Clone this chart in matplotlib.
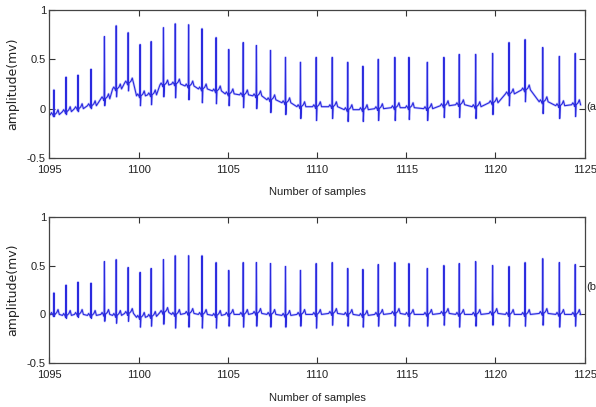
import numpy as np
import matplotlib
matplotlib.use('Agg')
import matplotlib.pyplot as plt

# Tiempos de los latidos (pico R)
beat_times = [1095.25, 1095.93, 1096.60, 1097.33, 1098.08, 1098.74, 1099.41, 1100.08,
              1100.70, 1101.39, 1102.05, 1102.80, 1103.55, 1104.34, 1105.05, 1105.86,
              1106.60, 1107.39, 1108.23, 1109.07, 1109.95, 1110.85, 1111.72, 1112.57,
              1113.43, 1114.36, 1115.15, 1116.18, 1117.11, 1117.97, 1118.89, 1119.84,
              1120.76, 1121.66, 1122.65, 1123.58, 1124.47]

# (a) señal con deriva de linea base
top_peaks = [0.19, 0.32, 0.34, 0.40, 0.73, 0.84, 0.77, 0.65, 0.68, 0.82, 0.86, 0.85,
             0.81, 0.72, 0.60, 0.67, 0.64, 0.59, 0.52, 0.47, 0.52, 0.52, 0.47, 0.43,
             0.50, 0.52, 0.52, 0.47, 0.52, 0.55, 0.55, 0.56, 0.67, 0.70, 0.62, 0.53, 0.56]
top_baseline = [-0.06, -0.03, 0.00, 0.03, 0.10, 0.20, 0.26, 0.13, 0.14, 0.24, 0.25, 0.23,
                0.20, 0.18, 0.15, 0.14, 0.13, 0.09, 0.06, 0.02, 0.02, 0.02, -0.01, -0.01,
                0.00, 0.01, 0.01, 0.00, 0.03, 0.04, 0.02, 0.06, 0.15, 0.19, 0.07, 0.03, 0.04]

# (b) señal corregida
bot_peaks = [0.22, 0.30, 0.33, 0.32, 0.54, 0.56, 0.48, 0.43, 0.47, 0.56, 0.60, 0.60,
             0.60, 0.53, 0.45, 0.53, 0.53, 0.52, 0.49, 0.45, 0.52, 0.53, 0.47, 0.46,
             0.51, 0.53, 0.52, 0.47, 0.50, 0.52, 0.54, 0.50, 0.49, 0.53, 0.57, 0.53, 0.51]
bot_baseline = [0.00, -0.01, 0.00, -0.01, 0.00, -0.01, 0.01, -0.03, -0.02, 0.02, 0.00, 0.01,
                0.00, -0.01, 0.00, 0.00, 0.01, 0.00, -0.01, 0.00, 0.00, 0.01, 0.00, -0.01,
                0.00, 0.01, 0.00, 0.00, 0.01, 0.00, 0.00, 0.01, 0.00, 0.00, 0.01, 0.00, 0.00]

# profundidad de la onda S
s_depth = [0.02, 0.03, 0.03, 0.03, 0.07, 0.08, 0.08, 0.10, 0.10, 0.12, 0.14, 0.14,
           0.14, 0.13, 0.12, 0.13, 0.13, 0.13, 0.12, 0.12, 0.14, 0.12, 0.12, 0.12,
           0.12, 0.13, 0.12, 0.12, 0.12, 0.13, 0.12, 0.12, 0.12, 0.12, 0.12, 0.13, 0.12]

x_ticks = [1095, 1100, 1105, 1110, 1115, 1120, 1125]
y_ticks = [-0.5, 0, 0.5, 1]
y_ticklabels = ['-0.5', '0', '0.5', '1']

# forma de cada latido: P, Q, R, S, T (desplazamiento en x, altura relativa)
shape_dt = [-0.20, -0.13, -0.07, -0.02, 0.0, 0.02, 0.05, 0.16, 0.23, 0.30]
shape_amp = [0.0, 0.02, 0.0, -0.02, None, 'S', 0.0, 0.02, 0.05, 0.0]


def ecg_trace(times, peaks, base):
    xs, ys = [], []
    for i, t in enumerate(times):
        for dt, amp in zip(shape_dt, shape_amp):
            xs.append(t + dt)
            if amp is None:
                ys.append(peaks[i])
            elif amp == 'S':
                ys.append(base[i] - s_depth[i])
            else:
                ys.append(base[i] + amp)
    return np.array(xs), np.array(ys)


plt.rcParams['font.family'] = ['Liberation Sans', 'DejaVu Sans']

fig = plt.figure(figsize=(5.96, 4.07), dpi=100)
ax1 = fig.add_axes([0.083, 0.6118, 0.898, 0.3636])
ax2 = fig.add_axes([0.083, 0.1074, 0.898, 0.3602])

panels = [(ax1, top_peaks, top_baseline, '(a)', 0.02, -0.196),
          (ax2, bot_peaks, bot_baseline, '(b)', 0.285, -0.205)]

for ax, pk, bl, tag, tag_y, xl_y in panels:
    x, y = ecg_trace(beat_times, pk, bl)
    ax.plot(x, y, color='#8080ff', lw=1.8, alpha=0.4)
    ax.plot(x, y, color='#2a2ade', lw=0.8)
    ax.set_xlim(1095, 1125)
    ax.set_ylim(-0.5, 1)
    ax.set_xticks(x_ticks)
    ax.set_yticks(y_ticks)
    ax.set_yticklabels(y_ticklabels)
    ax.tick_params(direction='in', top=True, right=True, length=4, width=0.8,
                   colors='#333333', labelsize=8, labelcolor='#222222')
    ax.tick_params(axis='x', pad=5)
    ax.tick_params(axis='y', pad=2.5)
    for sp in ax.spines.values():
        sp.set_color('#444444')
        sp.set_linewidth(0.9)
    ax.set_xlabel('Number of samples', fontsize=8, color='#222222', va='top')
    ax.xaxis.set_label_coords(0.5, xl_y)
    ax.set_ylabel('amplitude(mv)', fontsize=9, color='#222222', family='DejaVu Sans')
    ax.yaxis.set_label_coords(-0.057, 0.5)
    ax.text(1125.1, tag_y, tag, fontsize=8, color='#222222', ha='left', va='center',
            clip_on=False)

fig.savefig('out.png', dpi=100)
